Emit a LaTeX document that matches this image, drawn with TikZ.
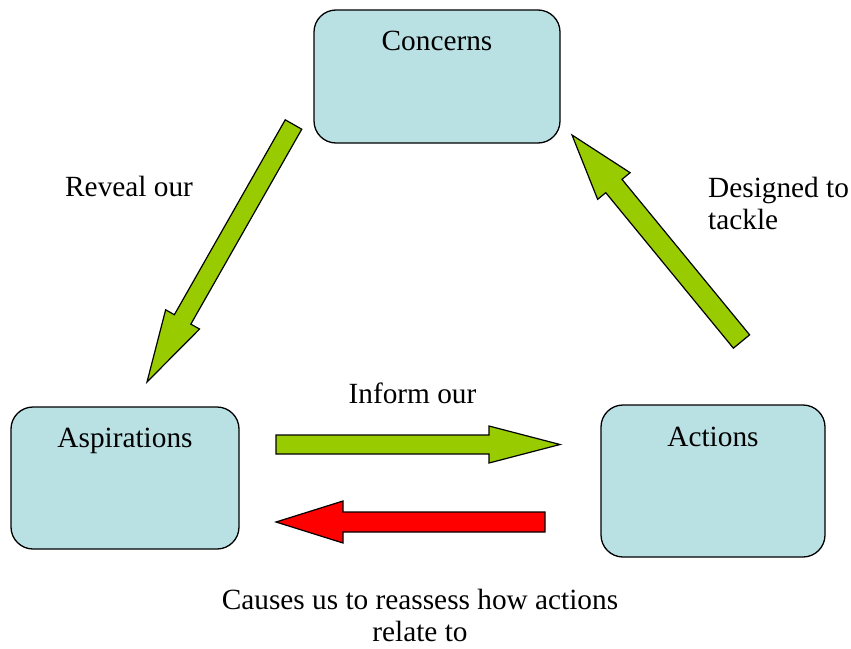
\documentclass[tikz,border=0pt]{standalone}
\usepackage{fontspec}
\setmainfont{Liberation Serif}
\usetikzlibrary{calc}

\definecolor{boxfill}{HTML}{B9E0E3}
\definecolor{leafgreen}{HTML}{99CC00}
\definecolor{alarmred}{HTML}{FF0000}

% Block arrow from coordinate #1 (tail centre) to #2 (tip):
% #3 shaft width, #4 head width, #5 head length, #6 fill colour
\newcommand\blockarrow[6]{%
  \coordinate (neck) at ($(#2)!#5!(#1)$);
  \draw[blockline, fill=#6]
    ($(#1)!#3/2!90:(#2)$) --
    ($(neck)!#3/2!-90:(#1)$) --
    ($(neck)!#4/2!-90:(#1)$) --
    (#2) --
    ($(neck)!#4/2!90:(#1)$) --
    ($(neck)!#3/2!90:(#1)$) --
    ($(#1)!#3/2!-90:(#2)$) -- cycle;
}

\begin{document}
\begin{tikzpicture}[x=1pt, y=-1pt,
  box/.style={draw=black, line width=1.3pt, fill=boxfill, rounded corners=22pt},
  blockline/.style={draw=black, line width=1.2pt, line join=miter},
  boxtext/.style={anchor=base, inner sep=0pt, font=\fontsize{29.3}{33}\selectfont},
  label/.style={inner sep=0pt, font=\fontsize{29.3}{32}\selectfont}]

  \useasboundingbox (0,0) rectangle (851,648);

  % three rounded boxes
  \draw[box] (314,10) rectangle (560,143);
  \draw[box] (11,407) rectangle (239,549);
  \draw[box] (601,405) rectangle (825,557);

  \node[boxtext] (concerns) at (437,50) {Concerns};
  \node[boxtext] (aspirations) at (125,447) {Aspirations};
  \node[boxtext] (actions) at (713,446) {Actions};

  % arrow end points
  \coordinate (revealtail) at (293.5,124.5);
  \coordinate (revealtip) at (147,382);
  \coordinate (designtail) at (741.5,341.5);
  \coordinate (designtip) at (572,135);
  \coordinate (informtail) at (276,444.5);
  \coordinate (informtip) at (560,444.5);
  \coordinate (causetail) at (545,522);
  \coordinate (causetip) at (276,522);

  \blockarrow{revealtail}{revealtip}{19pt}{39pt}{72pt}{leafgreen}
  \blockarrow{designtail}{designtip}{21pt}{42pt}{66pt}{leafgreen}
  \blockarrow{informtail}{informtip}{19pt}{37pt}{71pt}{leafgreen}
  \blockarrow{causetail}{causetip}{20pt}{42pt}{67pt}{alarmred}

  % connector labels (base anchor of a two-line node sits on its last line)
  \node[label, anchor=base west] (reveal) at (65,196) {Reveal our};
  \node[label, anchor=base] (inform) at (412.5,403) {Inform our};
  \node[label, anchor=base west, align=left] (designed) at (708,229) {Designed to\\tackle};
  \node[label, anchor=base, align=center] (causes) at (420,641) {Causes us to reassess how actions\\relate to};
\end{tikzpicture}
\end{document}
